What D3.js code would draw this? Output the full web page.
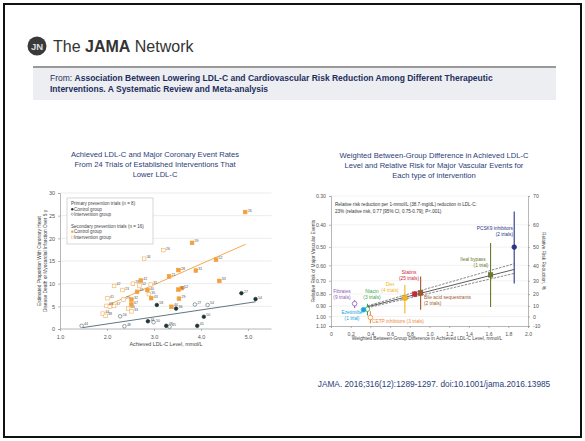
<!DOCTYPE html>
<html>
<head>
<meta charset="utf-8">
<script src="https://cdn.jsdelivr.net/npm/d3@7"></script>
<style>
  body { margin: 0; background: #fff; }
  svg { display: block; font-family: "Liberation Sans", Arial, sans-serif; }
</style>
</head>
<body>
<div id="chart"></div>
<script>
// ---- left chart data: [achieved LDL-C, event rate %, trial label]
var primaryControl = [
  [4.86, 7.9, "27"], [5.16, 6.6, "54"], [3.06, 5.3, "58"], [3.47, 4.5, "36"],
  [4.06, 2.7, "50"], [2.87, 1.7, "44"], [3.26, 0.7, "48"], [3.92, 0.7, "45"]
];
var primaryIntervention = [
  [3.87, 5.4, "27"], [4.14, 5.3, "54"], [2.28, 2.8, "56"], [2.99, 1.5, "50"],
  [2.37, 0.6, "48"], [3.33, 0.5, "45"], [1.46, 0.7, "44"]
];
var secondaryControl = [
  [4.94, 25.8, "26"], [3.81, 19.0, "59"], [4.32, 15.3, "52"], [3.52, 13.0, "28"],
  [3.89, 12.9, "31"], [3.32, 11.6, "21"], [4.39, 10.6, "33"], [2.72, 10.7, "42"],
  [3.52, 8.7, "61"], [3.59, 9.0, "52"], [2.64, 8.2, "45"], [2.86, 8.6, "40"],
  [2.94, 6.8, "43"], [3.53, 6.7, "29"], [2.52, 6.5, "32"], [2.52, 5.4, "67"],
  [3.37, 4.9, "44"]
];
var secondaryIntervention = [
  [3.20, 17.4, "26"], [2.79, 15.5, "34"], [2.15, 9.5, "42"], [2.55, 10.0, "28"],
  [2.33, 8.6, "23"], [2.93, 9.8, "31"], [2.69, 9.6, "52"], [2.01, 6.8, "41"],
  [2.89, 7.7, "35"], [2.35, 6.5, "29"], [1.99, 5.1, "63"], [2.15, 5.1, "67"],
  [2.06, 4.9, ""], [2.45, 4.5, "40"], [2.52, 3.9, "33"], [1.91, 3.4, "44"],
  [1.97, 2.9, "38"]
];
var secondaryFit = [[1.94, 4.9], [4.95, 18.7]];
var primaryFit = [[1.48, 0.3], [5.16, 6.0]];
var leftXTicks = [1, 2, 3, 4, 5];
var leftYTicks = [0, 5, 10, 15, 20, 25, 30];

// ---- right chart data
var interventions = ["Fibrates", "Niacin", "Ezetimibe", "CETP inhibitors", "Diet", "Statins",
  "Bile acid sequestrants", "Ileal bypass", "PCSK9 inhibitors"];
var trialCounts = ["9 trials", "3 trials", "1 trial", "3 trials", "4 trials", "25 trials",
  "2 trials", "1 trial", "2 trials"];
var ldlDiff = [0.24, 0.37, 0.33, 0.40, 0.75, 0.85, 0.91, 1.62, 1.86];
var relRisk = [0.88, 0.93, 0.935, 1.01, 0.83, 0.80, 0.79, 0.66, 0.50];
var ciLow = [0.85, 0.88, 0.92, 0.95, 0.73, 0.78, 0.67, 0.48, 0.35];
var ciHigh = [0.92, 0.99, 0.955, 1.07, 0.97, 0.82, 0.935, 0.91, 0.72];
var fitMain = [[0.37, 0.908], [1.86, 0.625]];
var fitUpper = [[0.37, 0.899], [1.86, 0.59]];
var fitLower = [[0.37, 0.917], [1.86, 0.65]];
var rightXTicks = [0, 0.2, 0.4, 0.6, 0.8, 1.0, 1.2, 1.4, 1.6, 1.8, 2.0];
var rightYTicks = [0.30, 0.40, 0.50, 0.60, 0.70, 0.80, 0.90, 1.00, 1.10];

var W = 585, H = 441;
var navy = "#2b3d78";
var svg = d3.select("#chart").append("svg").attr("width", W).attr("height", H);

// frame
svg.append("rect").attr("x", 4).attr("y", 4).attr("width", W - 8).attr("height", H - 8)
  .attr("fill", "#fff").attr("stroke", "#111").attr("stroke-width", 2);

// header
svg.append("circle").attr("cx", 37).attr("cy", 46).attr("r", 9.5).attr("fill", "#3a3a3a");
svg.append("text").attr("x", 37).attr("y", 49.5).attr("text-anchor", "middle")
  .attr("font-size", 9.5).attr("fill", "#ddd").attr("font-weight", "bold").text("JN");
var brand = svg.append("text").attr("x", 53).attr("y", 51.5).attr("font-size", 16).attr("fill", "#333");
brand.append("tspan").text("The ");
brand.append("tspan").attr("font-weight", "bold").text("JAMA");
brand.append("tspan").text(" Network");

svg.append("rect").attr("x", 33).attr("y", 67).attr("width", 523).attr("height", 33).attr("fill", "#eceef1");
svg.append("rect").attr("x", 33).attr("y", 66).attr("width", 523).attr("height", 2).attr("fill", "#999");
var from1 = svg.append("text").attr("x", 50).attr("y", 80.5).attr("font-size", 8.5).attr("fill", "#1f2f60");
from1.append("tspan").text("From: ");
from1.append("tspan").attr("font-weight", "bold")
  .text("Association Between Lowering LDL-C and Cardiovascular Risk Reduction Among Different Therapeutic");
svg.append("text").attr("x", 50).attr("y", 92).attr("font-size", 8.5).attr("fill", "#1f2f60")
  .attr("font-weight", "bold").text("Interventions. A Systematic Review and Meta-analysis");

// titles
function title(lines, cx, y0) {
  lines.forEach(function (t, i) {
    svg.append("text").attr("x", cx).attr("y", y0 + i * 10).attr("text-anchor", "middle")
      .attr("font-size", 7.6).attr("fill", navy).text(t);
  });
}
title(["Achieved LDL-C and Major Coronary Event Rates",
  "From 24 Trials of Established Interventions That", "Lower LDL-C"], 155, 157);
title(["Weighted Between-Group Difference in Achieved LDL-C",
  "Level and Relative Risk for Major Vascular Events for", "Each type of intervention"], 434, 158);

svg.append("text").attr("x", 434).attr("y", 387).attr("text-anchor", "middle")
  .attr("font-size", 8.3).attr("fill", navy)
  .text("JAMA. 2016;316(12):1289-1297. doi:10.1001/jama.2016.13985");

// ================= left chart =================
var lx = d3.scaleLinear().domain([1, 5.5]).range([60, 271.5]);
var ly = d3.scaleLinear().domain([0, 30]).range([329, 193]);
var L = svg.append("g");
var orange = "#f2a03a", dark = "#1d3535", teal = "#5b7a82";

L.selectAll(".gl").data(leftYTicks.slice(1)).enter().append("line")
  .attr("x1", lx(1)).attr("x2", lx(5.5)).attr("y1", function (d) { return ly(d); })
  .attr("y2", function (d) { return ly(d); }).attr("stroke", "#e4e4e4").attr("stroke-width", 0.7);

var lxAxis = L.append("g").attr("transform", "translate(0," + ly(0) + ")")
  .call(d3.axisBottom(lx).tickValues(leftXTicks).tickFormat(d3.format(".1f")).tickSize(2));
var lyAxis = L.append("g").attr("transform", "translate(" + lx(1) + ",0)")
  .call(d3.axisLeft(ly).tickValues(leftYTicks).tickSize(2));
[lxAxis, lyAxis].forEach(function (a) {
  a.selectAll("path,line").attr("stroke", "#999").attr("stroke-width", 0.7);
  a.selectAll("text").attr("font-size", 5.5).attr("fill", "#555");
});
lxAxis.select(".domain").attr("d", "M" + lx(1) + ",0H" + lx(5.5));
lxAxis.selectAll("text").attr("dy", "0.9em");

L.append("text").attr("x", 166).attr("y", 346).attr("text-anchor", "middle")
  .attr("font-size", 5.3).attr("fill", "#444").text("Achieved LDL-C Level, mmol/L");
L.append("text").attr("transform", "translate(41,261) rotate(-90)").attr("text-anchor", "middle")
  .attr("font-size", 4.8).attr("fill", "#444").text("Estimated Proportion With Coronary Heart");
L.append("text").attr("transform", "translate(46.5,261) rotate(-90)").attr("text-anchor", "middle")
  .attr("font-size", 4.8).attr("fill", "#444").text("Disease Death or Myocardial Infarction Over 5 y");

var fitLine = d3.line().x(function (d) { return lx(d[0]); }).y(function (d) { return ly(d[1]); });
L.append("path").attr("d", fitLine(secondaryFit)).attr("stroke", orange).attr("stroke-width", 0.9).attr("fill", "none");
L.append("path").attr("d", fitLine(primaryFit)).attr("stroke", "#4e6870").attr("stroke-width", 0.9).attr("fill", "none");

function pts(data, shape, color, filled) {
  var g = L.append("g");
  if (shape === "circle") {
    g.selectAll("circle").data(data).enter().append("circle")
      .attr("cx", function (d) { return lx(d[0]); }).attr("cy", function (d) { return ly(d[1]); })
      .attr("r", 1.8).attr("fill", filled ? color : "#fff").attr("stroke", color).attr("stroke-width", 0.7);
  } else {
    g.selectAll("rect").data(data).enter().append("rect")
      .attr("x", function (d) { return lx(d[0]) - 1.8; }).attr("y", function (d) { return ly(d[1]) - 1.8; })
      .attr("width", 3.6).attr("height", 3.6)
      .attr("fill", filled ? color : "#fff").attr("stroke", color).attr("stroke-width", 0.7);
  }
  g.selectAll("text").data(data).enter().append("text")
    .attr("x", function (d) { return lx(d[0]) + 2.5; }).attr("y", function (d) { return ly(d[1]) - 0.5; })
    .attr("font-size", 3.6).attr("fill", "#555").text(function (d) { return d[2]; });
}
pts(secondaryIntervention, "rect", "#f5b870", false);
pts(primaryIntervention, "circle", teal, false);
pts(secondaryControl, "rect", orange, true);
pts(primaryControl, "circle", dark, true);

// legend
var lg = L.append("g");
lg.append("rect").attr("x", 67).attr("y", 198).attr("width", 86).attr("height", 46)
  .attr("fill", "#fff").attr("stroke", "#bbb").attr("stroke-width", 0.6);
var legItems = [
  ["Primary prevention trials (n = 8)", null, 205],
  ["Control group", "pc", 210.5],
  ["Intervention group", "pi", 215.5],
  ["Secondary prevention trials (n = 16)", null, 227.5],
  ["Control group", "sc", 233],
  ["Intervention group", "si", 238.5]
];
legItems.forEach(function (it) {
  var x = it[1] ? 74 : 71;
  if (it[1] === "pc") lg.append("circle").attr("cx", 72.3).attr("cy", it[2] - 1.3).attr("r", 1.2).attr("fill", dark);
  if (it[1] === "pi") lg.append("circle").attr("cx", 72.3).attr("cy", it[2] - 1.3).attr("r", 1.1).attr("fill", "#fff").attr("stroke", teal).attr("stroke-width", 0.5);
  if (it[1] === "sc") lg.append("rect").attr("x", 71.2).attr("y", it[2] - 2.4).attr("width", 2.2).attr("height", 2.2).attr("fill", orange);
  if (it[1] === "si") lg.append("rect").attr("x", 71.2).attr("y", it[2] - 2.4).attr("width", 2.2).attr("height", 2.2).attr("fill", "#fff").attr("stroke", "#f5b870").attr("stroke-width", 0.5);
  lg.append("text").attr("x", x).attr("y", it[2]).attr("font-size", 4.6).attr("fill", "#444").text(it[0]);
});

// ================= right chart =================
var rx = d3.scaleLinear().domain([0, 2]).range([331, 528]);
var ry = d3.scaleLog().domain([0.3, 1.1]).range([196, 326]);
var R = svg.append("g");

R.selectAll(".gl").data(rightYTicks.slice(0, -1)).enter().append("line")
  .attr("x1", rx(0)).attr("x2", rx(2)).attr("y1", function (d) { return ry(d); })
  .attr("y2", function (d) { return ry(d); }).attr("stroke", "#ececec").attr("stroke-width", 0.7);

var rxAxis = R.append("g").attr("transform", "translate(0," + ry(1.1) + ")")
  .call(d3.axisBottom(rx).tickValues(rightXTicks).tickFormat(function (d) { return d === 0 ? "0" : d3.format(".1f")(d); }).tickSize(2));
var ryAxis = R.append("g").attr("transform", "translate(" + rx(0) + ",0)")
  .call(d3.axisLeft(ry).tickValues(rightYTicks).tickFormat(d3.format(".2f")).tickSize(2));
var ryAxis2 = R.append("g").attr("transform", "translate(" + rx(2) + ",0)")
  .call(d3.axisRight(ry).tickValues(rightYTicks).tickFormat(function (d) { return Math.round((1 - d) * 100); }).tickSize(2));
[rxAxis, ryAxis, ryAxis2].forEach(function (a) {
  a.selectAll("path,line").attr("stroke", "#999").attr("stroke-width", 0.7);
  a.selectAll("text").attr("font-size", 5.2).attr("fill", "#555");
});
rxAxis.selectAll("text").attr("dy", "0.9em");

R.append("text").attr("x", 427).attr("y", 340).attr("text-anchor", "middle")
  .attr("font-size", 4.8).attr("fill", "#444").text("Weighted Between-Group Difference in Achieved LDL-C Level, mmol/L");
R.append("text").attr("transform", "translate(315,261) rotate(-90)").attr("text-anchor", "middle")
  .attr("font-size", 4.8).attr("fill", "#444").text("Relative Risk of Major Vascular Events");
R.append("text").attr("transform", "translate(542,261) rotate(90)").attr("text-anchor", "middle")
  .attr("font-size", 4.8).attr("fill", "#444").text("Relative Risk Reduction, %");

R.append("text").attr("x", 335).attr("y", 206).attr("font-size", 4.6).attr("fill", "#333")
  .text("Relative risk reduction per 1-mmol/L (38.7-mg/dL) reduction in LDL-C:");
R.append("text").attr("x", 335).attr("y", 212.5).attr("font-size", 4.6).attr("fill", "#333")
  .text("23% (relative risk, 0.77 [95% CI, 0.75-0.79]; P<.001)");

var rLine = d3.line().x(function (d) { return rx(d[0]); }).y(function (d) { return ry(d[1]); });
R.append("path").attr("d", rLine(fitUpper)).attr("stroke", "#555").attr("stroke-width", 0.7)
  .attr("stroke-dasharray", "2.5,1.2").attr("fill", "none");
R.append("path").attr("d", rLine(fitLower)).attr("stroke", "#555").attr("stroke-width", 0.7)
  .attr("stroke-dasharray", "2.5,1.2").attr("fill", "none");
R.append("path").attr("d", rLine(fitMain)).attr("stroke", "#333").attr("stroke-width", 0.8).attr("fill", "none");

var colors = ["#8e5bb5", "#3aa64a", "#1ba3e0", "#ef8a3e", "#f4b41c", "#c8283a", "#9c5a2c", "#687a2c", "#2a3580"];
var shapes = ["open", "open", "dot", "open", "sq", "sq", "sq", "sq", "dot"];
var idx = d3.range(interventions.length);

R.selectAll(".eb").data(idx).enter().append("line")
  .attr("x1", function (i) { return rx(ldlDiff[i]); }).attr("x2", function (i) { return rx(ldlDiff[i]); })
  .attr("y1", function (i) { return ry(ciLow[i]); }).attr("y2", function (i) { return ry(ciHigh[i]); })
  .attr("stroke", function (i) { return colors[i]; }).attr("stroke-width", 1.1);

idx.forEach(function (i) {
  var cx = rx(ldlDiff[i]), cy = ry(relRisk[i]);
  if (shapes[i] === "sq") {
    R.append("rect").attr("x", cx - 2.3).attr("y", cy - 2.3).attr("width", 4.6).attr("height", 4.6)
      .attr("fill", colors[i]).attr("stroke", d3.color(colors[i]).darker(0.6)).attr("stroke-width", 0.4);
  } else {
    R.append("circle").attr("cx", cx).attr("cy", cy).attr("r", 2.3)
      .attr("fill", shapes[i] === "dot" ? colors[i] : "#fff").attr("stroke", colors[i]).attr("stroke-width", 0.8);
  }
});

// intervention labels: [x, y, anchor, two lines?]
var labelPos = [
  [342, 293, "middle", true], [372, 293, "middle", true], [352, 313.5, "middle", true],
  [372, 322.5, "start", false], [390, 285.5, "middle", true], [409, 273.5, "middle", true],
  [424, 298.5, "start", true], [473, 261, "middle", true], [513, 230, "end", true]
];
idx.forEach(function (i) {
  var p = labelPos[i];
  var t = R.append("text").attr("font-size", 4.8).attr("fill", colors[i]).attr("text-anchor", p[2]);
  if (p[3]) {
    t.append("tspan").attr("x", p[0]).attr("y", p[1]).text(interventions[i]);
    t.append("tspan").attr("x", i === 7 ? p[0] + 8 : p[0]).attr("y", p[1] + 6.2).text("(" + trialCounts[i] + ")");
  } else {
    t.attr("x", p[0]).attr("y", p[1]).text(interventions[i] + " (" + trialCounts[i] + ")");
  }
});
</script>
</body>
</html>
